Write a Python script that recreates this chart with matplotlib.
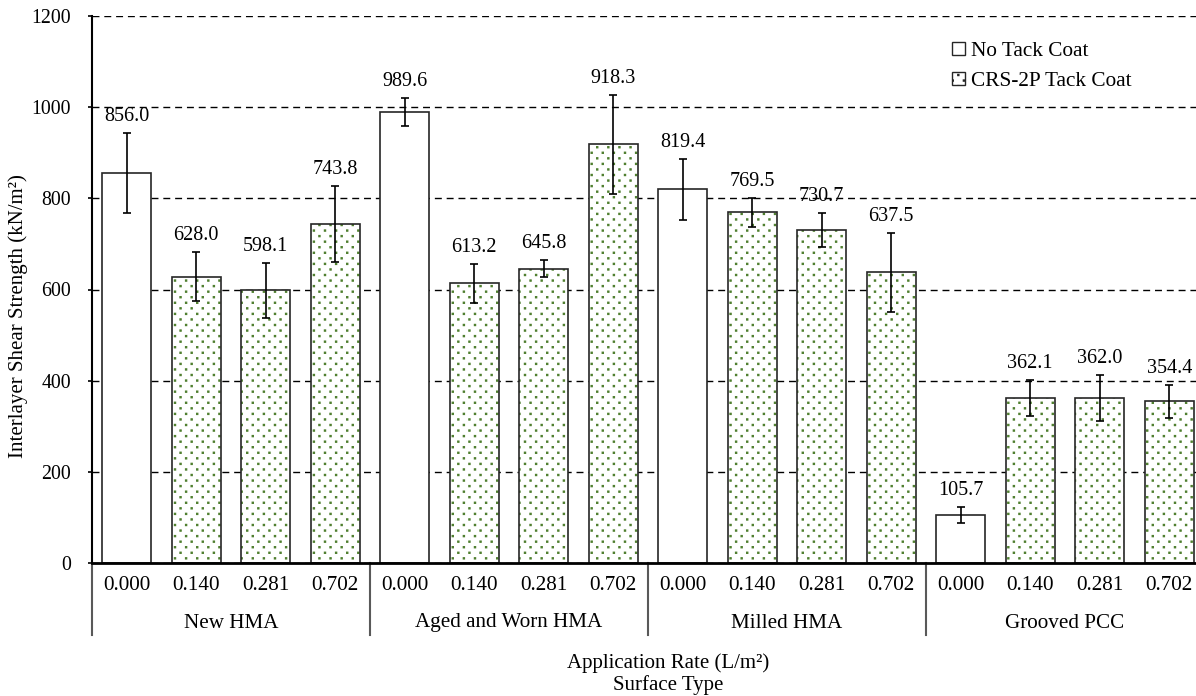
import numpy as np
import matplotlib.pyplot as plt
import matplotlib.hatch as mhatch
from matplotlib.path import Path
from matplotlib.patches import Patch

plt.rcParams['font.family'] = ['Liberation Serif', 'DejaVu Serif']
plt.rcParams['hatch.linewidth'] = 0.8

DOT_GREEN = '#4f7f2f'


class StaggeredDots(mhatch.HatchPatternBase):
    """'.' hatch: small square dots on a staggered (checkerboard) lattice."""

    def __init__(self, hatch, density):
        self.num_rows = 18 if '.' in hatch else 0
        self.num_vertices = self.num_rows * (self.num_rows // 2) * 5

    def set_vertices_and_codes(self, vertices, codes):
        n = self.num_rows
        step = 1.0 / n
        h = 0.0065
        sq = np.array([[-h, -h], [h, -h], [h, h], [-h, h], [-h, -h]])
        k = 0
        for r in range(n):
            y = (r + 0.5) * step
            for c in range(n // 2):
                x = (2 * c + (r % 2) + 0.5) * step
                vertices[k:k + 5] = sq + [x, y]
                codes[k:k + 5] = [Path.MOVETO, Path.LINETO, Path.LINETO,
                                  Path.LINETO, Path.CLOSEPOLY]
                k += 5


mhatch._hatch_types = [StaggeredDots]

surfaces = ['New HMA', 'Aged and Worn HMA', 'Milled HMA', 'Grooved PCC']
rates = ['0.000', '0.140', '0.281', '0.702']

# mean shear strength per surface, one entry per application rate
strength = {
    'New HMA': [856.0, 628.0, 598.1, 743.8],
    'Aged and Worn HMA': [989.6, 613.2, 645.8, 918.3],
    'Milled HMA': [819.4, 769.5, 730.7, 637.5],
    'Grooved PCC': [105.7, 362.1, 362.0, 354.4],
}
# +/- error (standard deviation)
strength_err = {
    'New HMA': [88, 54, 61, 83],
    'Aged and Worn HMA': [31, 43, 18, 108],
    'Milled HMA': [66, 32, 38, 87],
    'Grooved PCC': [17, 40, 51, 37],
}

fig = plt.figure(figsize=(11.96, 6.96), dpi=100)
ax = fig.add_axes([92/1196, 1-563/696, 1112/1196, 547/696])

n_rate = len(rates)
for g, s in enumerate(surfaces):
    for j in range(n_rate):
        x = g*n_rate + j
        v = strength[s][j]
        e = strength_err[s][j]
        if j > 0:
            # dotted fill first, outline drawn over it
            ax.bar(x, v, width=0.7, color='white', edgecolor=DOT_GREEN, linewidth=0,
                   hatch='.', zorder=2)
            ax.bar(x, v, width=0.7, color='none', edgecolor='#262626', linewidth=1.2, zorder=2)
        else:
            ax.bar(x, v, width=0.7, color='white', edgecolor='#262626', linewidth=1.2, zorder=2)
        ax.errorbar(x, v, yerr=e, fmt='none', ecolor='black', elinewidth=1.2,
                    capsize=3, capthick=1.2, zorder=3)
        ax.annotate('%.1f' % v, (x, v + e), xytext=(0, 5), textcoords='offset points',
                    ha='center', va='bottom', fontsize=14.5)

ax.set_xlim(-0.5, len(surfaces)*n_rate - 0.5)
ax.set_ylim(0, 1200)
ax.set_yticks(np.arange(0, 1201, 200))
ax.tick_params(axis='y', labelsize=14.3, length=3, width=1.2, pad=12)
ax.set_xticks([])
ax.yaxis.grid(True, linestyle=(0, (5, 3.5)), color='black', linewidth=1.0, zorder=0)
ax.set_axisbelow(True)
for side in ['top', 'right']:
    ax.spines[side].set_visible(False)
ax.spines['left'].set_linewidth(1.5)
ax.spines['bottom'].set_linewidth(2.0)

# two-level category axis below the bars
xtr = ax.get_xaxis_transform()
for g, s in enumerate(surfaces):
    for j, r in enumerate(rates):
        ax.text(g*n_rate + j, -22/547, r, transform=xtr, ha='center', va='center', fontsize=15.2)
    ax.text(g*n_rate + (n_rate-1)/2, -60/547, s, transform=xtr, ha='center', va='center',
            fontsize=15.2)
for g in range(len(surfaces) + 1):
    ax.plot([g*n_rate - 0.5]*2, [0, -72/547], transform=xtr, color='#595959',
            linewidth=1.5, clip_on=False)

ax.set_ylabel('Interlayer Shear Strength (kN/m²)', fontsize=15)
ax.yaxis.set_label_coords(-0.0576, 0.4516)
fig.text(668/1196, 1-663/696, 'Application Rate (L/m²)', ha='center', va='center', fontsize=15)
fig.text(668/1196, 1-685/696, 'Surface Type', ha='center', va='center', fontsize=15)

handles = [Patch(facecolor='white', edgecolor='#262626', linewidth=1.0, label='No Tack Coat'),
           Patch(facecolor='white', edgecolor='#262626', linewidth=1.0, hatch='.',
                 label='CRS-2P Tack Coat')]
leg = ax.legend(handles=handles, loc='upper left', bbox_to_anchor=(952/1196, 1-42/696),
                bbox_transform=fig.transFigure, frameon=False, fontsize=15.3,
                handlelength=0.6, handleheight=0.6, handletextpad=0.3, labelspacing=0.5,
                borderpad=0, borderaxespad=0)

fig.savefig('out.png', dpi=100)
